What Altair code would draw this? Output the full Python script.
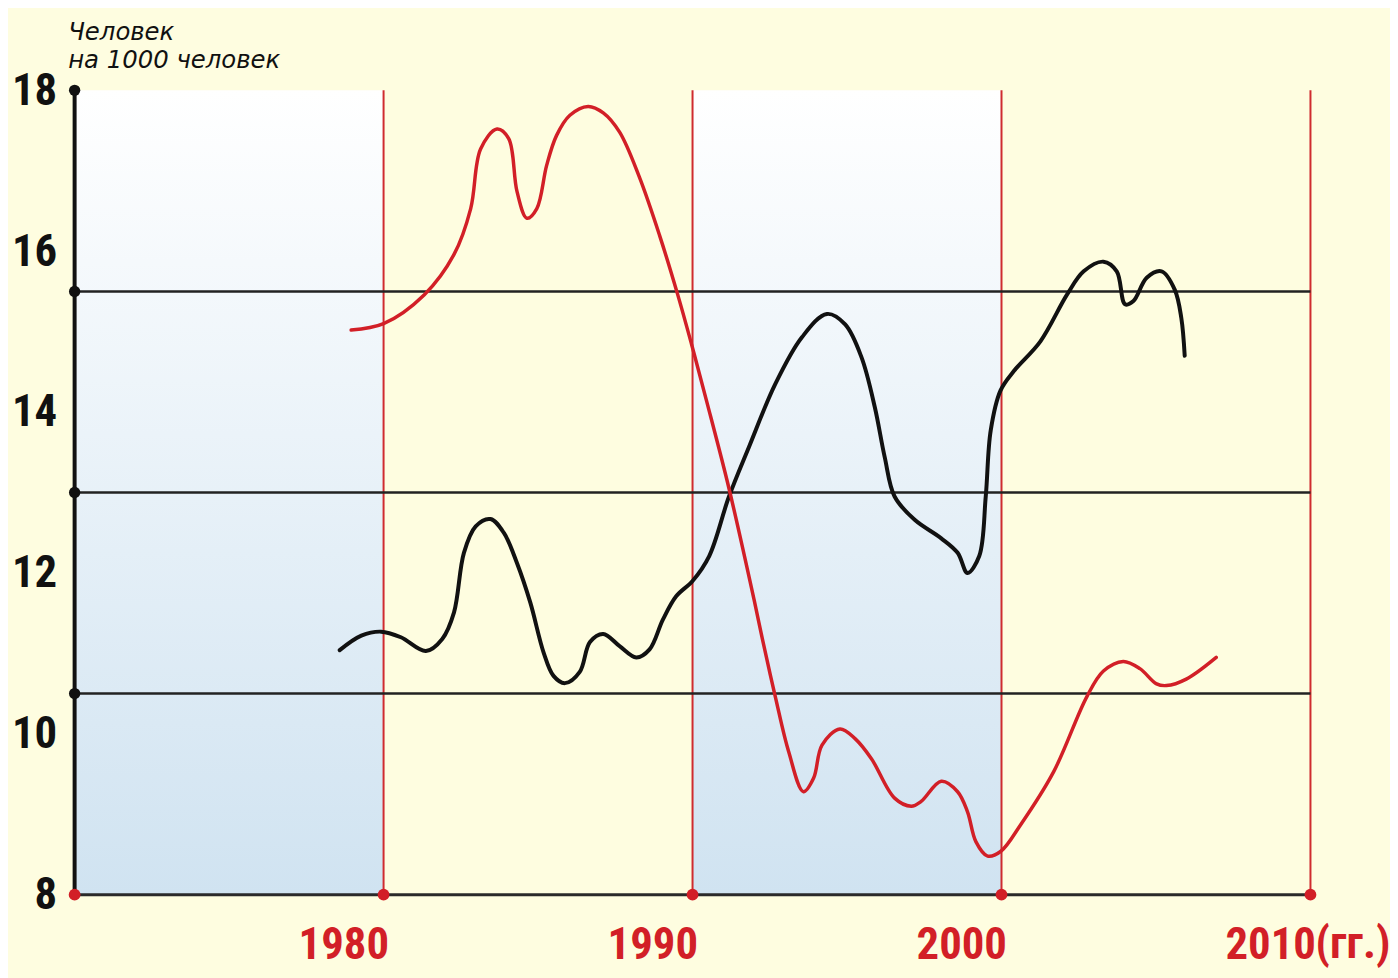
import altair as alt
import pandas as pd

# ---- data ----
red_years = [1978.95, 1980.0, 1981.32, 1982.28, 1982.82, 1983.14, 1983.67, 1984.05, 1984.32,
             1984.64, 1984.96, 1985.28, 1985.60, 1986.03, 1986.62, 1987.11, 1987.64, 1988.28,
             1988.93, 1989.52, 1989.97, 1990.46, 1991.18, 1991.99, 1992.26, 1992.68, 1993.11,
             1993.59, 1993.92, 1994.19, 1994.77, 1995.26, 1995.79, 1996.54, 1997.08, 1997.40,
             1998.05, 1998.58, 1998.90, 1999.17, 1999.55, 1999.98, 2000.62, 2001.69, 2002.76,
             2003.30, 2003.94, 2004.48, 2005.02, 2005.34, 2005.98, 2006.95]
red_vals = [15.02, 15.10, 15.46, 15.96, 16.53, 17.27, 17.52, 17.40, 16.74,
            16.41, 16.53, 17.07, 17.44, 17.69, 17.80, 17.72, 17.48, 16.92,
            16.20, 15.46, 14.84, 14.13, 13.05, 11.67, 11.18, 10.46, 9.78,
            9.28, 9.45, 9.86, 10.06, 9.94, 9.69, 9.20, 9.10, 9.16,
            9.41, 9.28, 9.03, 8.66, 8.48, 8.54, 8.87, 9.53, 10.46,
            10.78, 10.90, 10.81, 10.62, 10.60, 10.68, 10.95]

black_years = [1978.58, 1979.28, 1979.92, 1980.56, 1981.37, 1981.90, 1982.28, 1982.60, 1982.98,
               1983.46, 1983.89, 1984.32, 1984.75, 1985.18, 1985.50, 1985.87, 1986.35, 1986.68,
               1987.11, 1987.64, 1988.18, 1988.61, 1989.04, 1989.47, 1990.0, 1990.54, 1991.18,
               1991.83, 1992.68, 1993.54, 1994.35, 1994.94, 1995.47, 1995.90, 1996.22, 1996.54,
               1997.19, 1998.05, 1998.58, 1998.90, 1999.28, 1999.49, 1999.65, 1999.97, 2000.40,
               2001.26, 2002.12, 2002.66, 2003.30, 2003.73, 2004.00, 2004.27, 2004.70, 2005.18,
               2005.61, 2005.82, 2005.93]
black_vals = [11.04, 11.22, 11.27, 11.20, 11.03, 11.18, 11.51, 12.25, 12.58,
              12.67, 12.50, 12.12, 11.63, 11.01, 10.72, 10.63, 10.77, 11.14,
              11.24, 11.09, 10.95, 11.05, 11.42, 11.71, 11.90, 12.21, 12.95,
              13.57, 14.35, 14.93, 15.22, 15.09, 14.68, 14.06, 13.44, 12.95,
              12.66, 12.43, 12.25, 12.00, 12.21, 12.95, 13.77, 14.27, 14.51,
              14.88, 15.46, 15.75, 15.87, 15.75, 15.34, 15.38, 15.67, 15.75,
              15.52, 15.17, 14.70]

y_tick_values = [8, 10, 12, 14, 16, 18]
x_tick_values = [1980, 1990, 2000, 2010]
grid_values = [10.5, 13, 15.5]
axis_dot_values = [10.5, 13, 15.5, 18]
band_starts = [1970, 1990]
band_ends = [1980, 2000]
x_min, x_max = 1970, 2010
y_min, y_max = 8, 18
y_title = ["Человек", "на 1000 человек"]
unit_label = "(гг.)"

# ---- styles ----
YELLOW = "#fefde0"
RED = "#d21f27"
RED_RULE = "#cf2b2f"
BLACK = "#111111"
NUM_FONT = "Liberation Sans Narrow, Roboto Condensed, DejaVu Sans Condensed, sans-serif"
W, H = 1243, 809

xs = alt.Scale(domain=[x_min, x_max], nice=False, zero=False)
ys = alt.Scale(domain=[y_min, y_max], nice=False, zero=False)

x_axis = alt.Axis(values=x_tick_values, format="d", labelAlign="right", labelBaseline="top",
                  labelPadding=28, labelOffset=5, ticks=False, domain=False, grid=False,
                  labelFont=NUM_FONT, labelFontSize=45, labelFontWeight="bold",
                  labelColor=RED, labelFlush=False, labelOverlap=False, title=None)
y_axis = alt.Axis(values=y_tick_values, labelAlign="right", labelBaseline="middle",
                  labelPadding=18, ticks=False, domain=False, grid=False,
                  labelFont=NUM_FONT, labelFontSize=45, labelFontWeight="bold",
                  labelColor=BLACK, labelFlush=False, labelOverlap=False,
                  title=y_title, titleAngle=0, titleAlign="left", titleBaseline="alphabetic",
                  titleX=-7, titleY=-51, titleFont="DejaVu Sans", titleFontStyle="italic",
                  titleFontWeight="normal", titleFontSize=24.5, titleLineHeight=28,
                  titleColor=BLACK)


def X(field):
    return alt.X(field, type="quantitative", scale=xs, axis=x_axis, title=None)


def Y(field):
    return alt.Y(field, type="quantitative", scale=ys, axis=y_axis, title=y_title)


bands_df = pd.DataFrame({"x": band_starts, "x2": band_ends, "y": [y_min] * 2, "y2": [y_max] * 2})
bands = alt.Chart(bands_df).mark_rect(
    color=alt.Gradient(gradient="linear",
                       stops=[alt.GradientStop(color="#ffffff", offset=0),
                              alt.GradientStop(color="#d0e3f1", offset=1)],
                       x1=0, x2=0, y1=0, y2=1)
).encode(x=X("x"), x2="x2", y=Y("y"), y2="y2")

vrules_df = pd.DataFrame({"x": x_tick_values, "y": [y_min] * 4, "y2": [y_max] * 4})
vrules = alt.Chart(vrules_df).mark_rule(color=RED_RULE, strokeWidth=2).encode(
    x=X("x"), y=Y("y"), y2="y2")

hgrid_df = pd.DataFrame({"y": grid_values, "x": [x_min] * 3, "x2": [x_max] * 3})
hgrid = alt.Chart(hgrid_df).mark_rule(color="#222222", strokeWidth=2.5).encode(
    y=Y("y"), x=X("x"), x2="x2")

base_df = pd.DataFrame({"y": [y_min], "x": [x_min], "x2": [x_max]})
base_line = alt.Chart(base_df).mark_rule(color="#2a2a2a", strokeWidth=3).encode(
    y=Y("y"), x=X("x"), x2="x2")

yaxis_df = pd.DataFrame({"x": [x_min], "y": [y_min], "y2": [y_max]})
y_line = alt.Chart(yaxis_df).mark_rule(color=BLACK, strokeWidth=4).encode(
    x=X("x"), y=Y("y"), y2="y2")

black_df = pd.DataFrame({"year": black_years, "v": black_vals})
black_line = alt.Chart(black_df).mark_line(
    color=BLACK, strokeWidth=4, interpolate="catmull-rom", strokeCap="round"
).encode(x=X("year"), y=Y("v"))

red_df = pd.DataFrame({"year": red_years, "v": red_vals})
red_line = alt.Chart(red_df).mark_line(
    color=RED, strokeWidth=3.5, interpolate="catmull-rom", strokeCap="round"
).encode(x=X("year"), y=Y("v"))

bdots_df = pd.DataFrame({"x": [x_min] * 4, "y": axis_dot_values})
bdots = alt.Chart(bdots_df).mark_circle(color=BLACK, size=130, opacity=1).encode(
    x=X("x"), y=Y("y"))

rdots_df = pd.DataFrame({"x": [x_min] + x_tick_values, "y": [y_min] * 5})
rdots = alt.Chart(rdots_df).mark_circle(color=RED, size=140, opacity=1).encode(
    x=X("x"), y=Y("y"))

unit_df = pd.DataFrame({"x": [x_max], "y": [y_min], "t": [unit_label]})
unit = alt.Chart(unit_df).mark_text(
    align="left", baseline="top", dx=5, dy=28, font=NUM_FONT, fontSize=45,
    fontWeight="bold", color=RED
).encode(x=X("x"), y=Y("y"), text="t:N")

chart = alt.layer(
    bands, vrules, hgrid, base_line, y_line, black_line, red_line, bdots, rdots, unit
).properties(
    width=W, height=H,
    padding={"left": 67, "top": 80, "right": 80, "bottom": 81},
    autosize=alt.AutoSizeParams(type="none"),
).configure(background=YELLOW).configure_view(stroke=None)

chart.save("out.html", embed_options={"renderer": "svg", "actions": False})
